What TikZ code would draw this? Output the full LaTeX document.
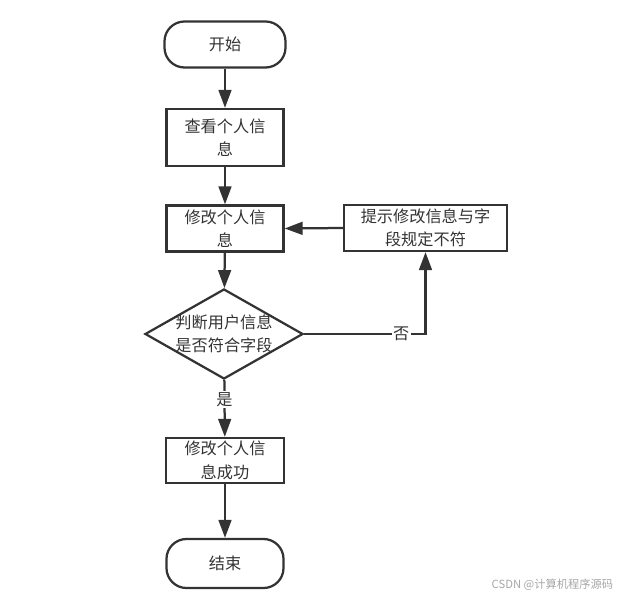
\documentclass[tikz,border=0pt]{standalone}
\usepackage{fontspec}
\setmainfont{Noto Sans CJK SC}
\usetikzlibrary{shapes.geometric,arrows.meta}
\definecolor{linegray}{HTML}{333333}
\begin{document}
\begin{tikzpicture}[x=0.025cm, y=-0.025cm,
    every node/.style={font=\fontsize{11.5}{16.5}\selectfont, text=linegray},
    term/.style={draw=linegray, line width=1.6pt, rounded corners=0.5cm, minimum width=3.025cm, minimum height=1.15cm},
    procbox/.style={draw=linegray, line width=1.6pt, align=center, minimum width=2.925cm, minimum height=1.15cm, inner sep=1pt},
    flow/.style={draw=linegray, line width=1.6pt, -{Triangle[length=0.45cm, width=0.32cm]}}]
    \useasboundingbox (0,0) rectangle (624,596);

    % Start and first steps
    \node[term] (start) at (225,44.5) {开始};
    \node[procbox, minimum height=1.425cm] (look) at (225,137.5) {查看个人信\\息};
    \node[procbox] (edit) at (225,228.5) {修改个人信\\息};
    \node[procbox, minimum width=4.075cm] (hint) at (425.5,228) {提示修改信息与字\\段规定不符};

    % Check
    \node[diamond, draw=linegray, line width=1.6pt, aspect=1.76, align=center, inner sep=-1mm,
          minimum width=3.95cm, minimum height=2.25cm] (judge) at (224,334) {判断用户信息\\是否符合字段};

    % Result and end
    \node[procbox, minimum width=2.95cm, minimum height=1.125cm] (done) at (225,460.5) {修改个人信\\息成功};
    \node[term, minimum width=2.925cm, minimum height=1.225cm] (end) at (225,563.5) {结束};

    % Arrows
    \draw[flow] (start) -- (look);
    \draw[flow] (look) -- (edit);
    \draw[flow] (edit) -- (judge);
    \draw[flow] (judge) -- node[fill=white, inner sep=1pt, pos=0.35] {是} (done);
    \draw[flow] (done) -- (end);
    \draw[flow] (judge.east) -| node[fill=white, inner sep=1pt, pos=0.4] {否} (hint.south);
    \draw[flow] (hint.west) -- (edit.east);

    % Watermark
    \node[anchor=east, text=black!35, font=\fontsize{8}{10}\selectfont] (mark) at (618,585) {CSDN @计算机程序源码};
\end{tikzpicture}
\end{document}
